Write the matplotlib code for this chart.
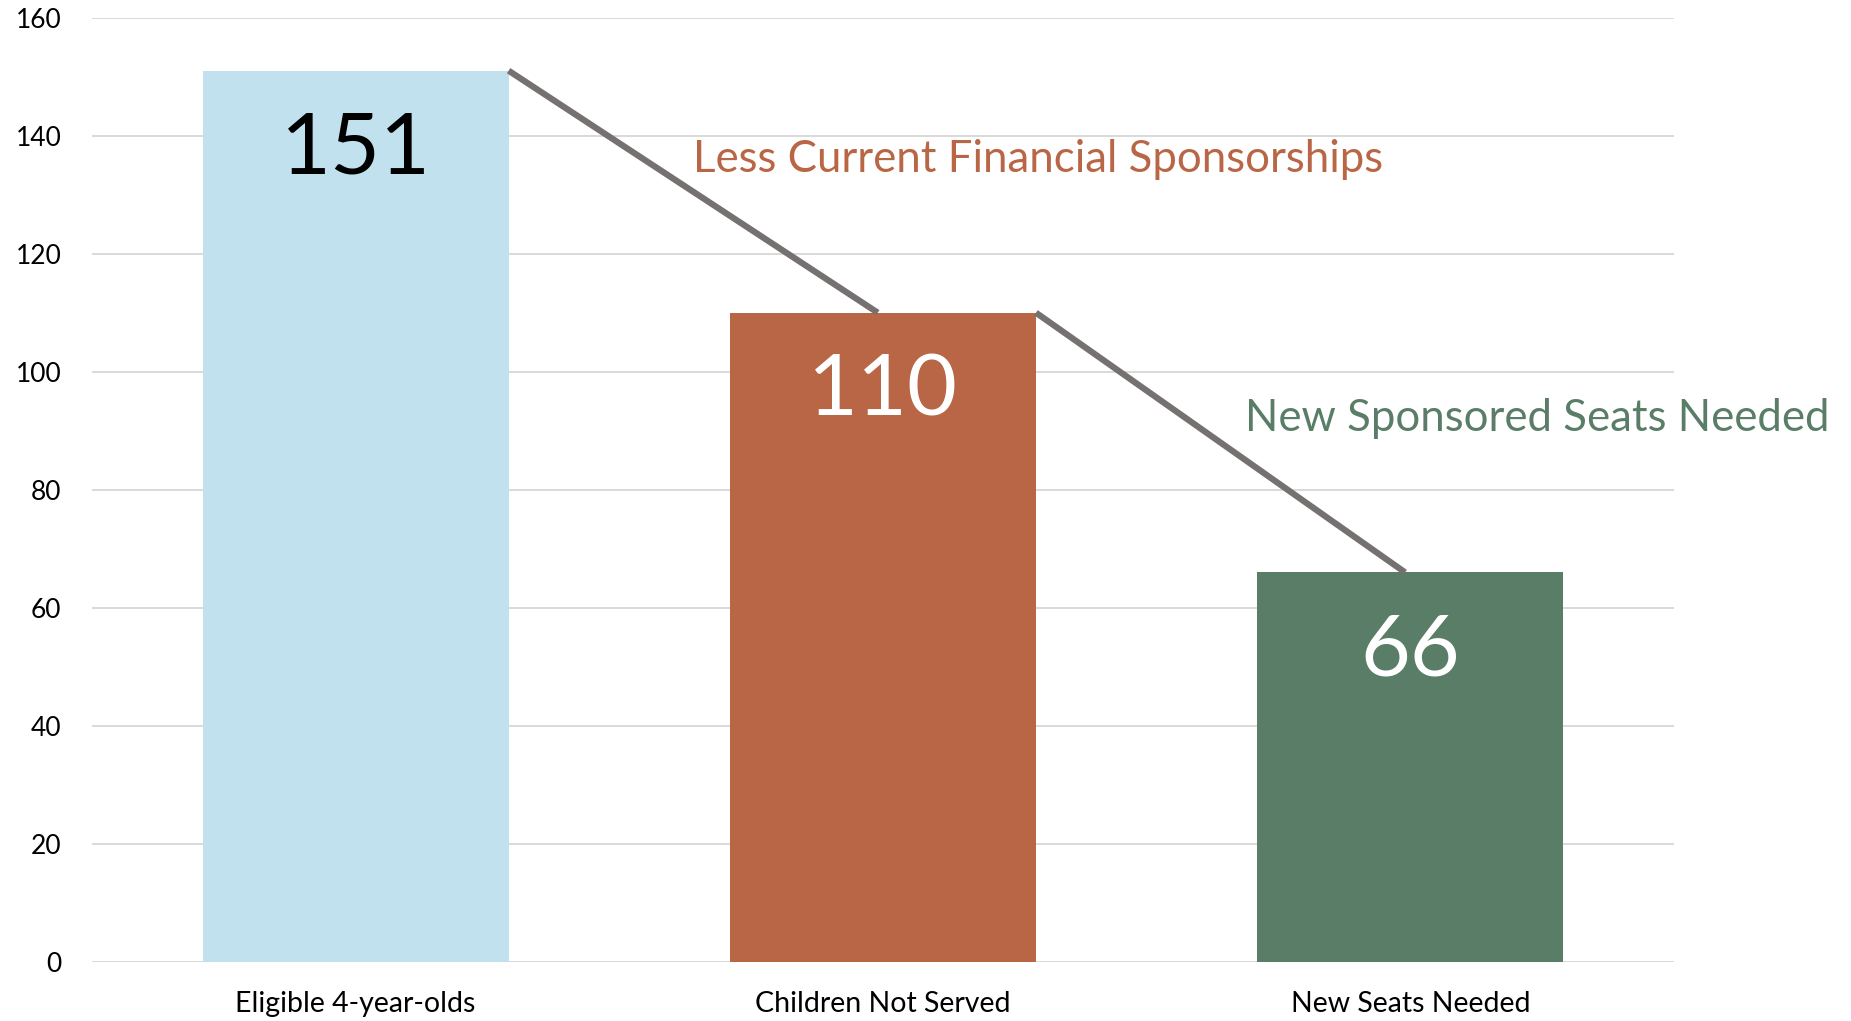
# 瀑布式柱状图：三根柱子 + 连接线 + 说明文字
import matplotlib.pyplot as plt

plt.rcParams['font.family'] = ['Lato', 'DejaVu Sans']

# 数据
categories = ['Eligible 4-year-olds', 'Children Not Served', 'New Seats Needed']
values = [151, 110, 66]
bar_colors = ['#C1E1EE', '#B86645', '#5A7D68']
label_colors = ['#000000', '#FFFFFF', '#FFFFFF']
notes = ['Less Current Financial Sponsorships', 'New Sponsored Seats Needed']
note_colors = ['#B86645', '#5A7D68']
note_pos = [(0.64, 136), (1.687, 92)]

fig = plt.figure(figsize=(18.51, 10.21), dpi=100)
ax = fig.add_axes([0.0497, 0.0578, 0.8547, 0.925])

x = list(range(len(categories)))
bar_w = 0.58
bars = ax.bar(x, values, width=bar_w, color=bar_colors, zorder=2)

# 柱内数值
for xi, v, c in zip(x, values, label_colors):
    ax.annotate(str(v), (xi, v), xytext=(0, -57), textcoords='offset points',
                ha='center', va='center', fontsize=62, color=c, zorder=3)

# 连接线：上一根柱子右上角 -> 下一根柱子顶部
for i in range(len(values) - 1):
    ax.plot([x[i] + bar_w / 2, x[i + 1] - 0.01], [values[i], values[i + 1]],
            color='#767171', lw=4.5, solid_capstyle='butt', zorder=4, clip_on=False)

for t, c, (tx, ty) in zip(notes, note_colors, note_pos):
    ax.text(tx, ty, t, color=c, fontsize=31.5, ha='left', va='center')

ax.set_xlim(-0.5, 2.5)
ax.set_ylim(0, 160)
ax.set_yticks(range(0, 161, 20))
ax.set_xticks(x)
ax.set_xticklabels(categories, fontsize=20.5)
ax.tick_params(axis='both', length=0)
ax.tick_params(axis='y', pad=22, labelsize=19)
ax.tick_params(axis='x', pad=21)
ax.grid(axis='y', color='#D9D9D9', lw=1.4, zorder=0)
for s in ax.spines.values():
    s.set_visible(False)

fig.savefig('out.png', dpi=100)
